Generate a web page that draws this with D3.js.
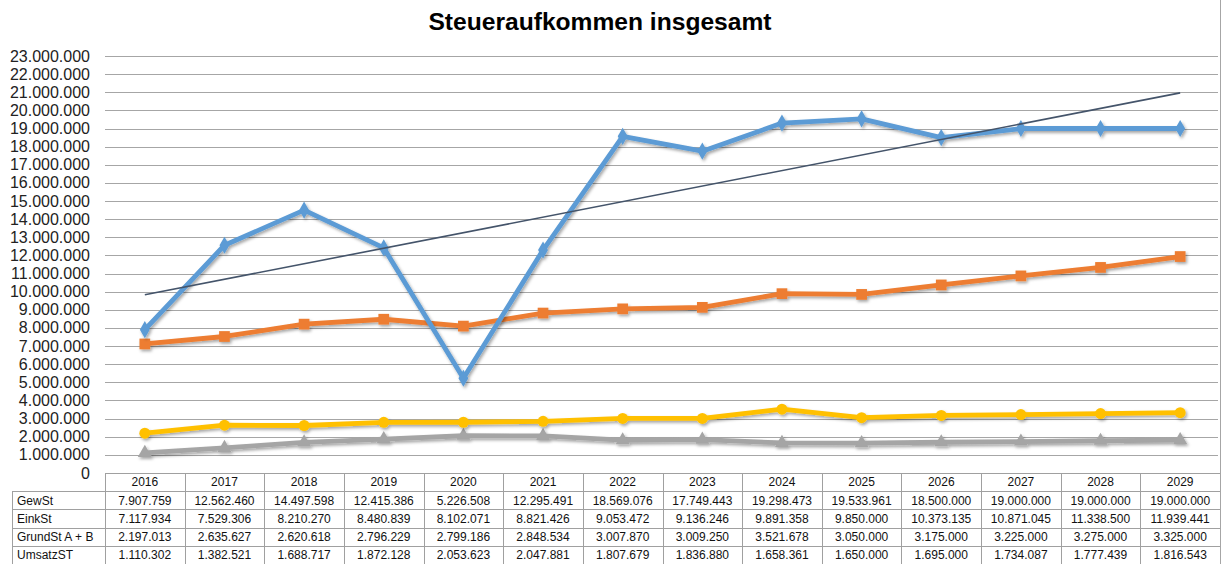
<!DOCTYPE html>
<html>
<head>
<meta charset="utf-8">
<script src="https://cdn.jsdelivr.net/npm/d3@7"></script>
<style>
  body { margin: 0; background: #fff; }
  svg { display: block; font-family: "Liberation Sans", Arial, sans-serif; }
</style>
</head>
<body>
<script>
const years = ["2016","2017","2018","2019","2020","2021","2022","2023","2024","2025","2026","2027","2028","2029"];
const gewSt = [7907759,12562460,14497598,12415386,5226508,12295491,18569076,17749443,19298473,19533961,18500000,19000000,19000000,19000000];
const einkSt = [7117934,7529306,8210270,8480839,8102071,8821426,9053472,9136246,9891358,9850000,10373135,10871045,11338500,11939441];
const grundSt = [2197013,2635627,2620618,2796229,2799186,2848534,3007870,3009250,3521678,3050000,3175000,3225000,3275000,3325000];
const umsatzSt = [1110302,1382521,1688717,1872128,2053623,2047881,1807679,1836880,1658361,1650000,1695000,1734087,1777439,1816543];
const seriesNames = ["GewSt","EinkSt","GrundSt A + B","UmsatzST"];
const yTicks = d3.range(0, 23000001, 1000000);

const W = 1222, H = 564;
const plotL = 105, plotR = 1220, plotT = 56, base = 473;
const rowH = 18.2;

const svg = d3.select("body").append("svg").attr("width", W).attr("height", H);

const defs = svg.append("defs");
const f = defs.append("filter").attr("id", "shadow").attr("x", "-10%").attr("y", "-10%").attr("width", "130%").attr("height", "130%");
f.append("feDropShadow").attr("dx", 1.5).attr("dy", 2).attr("stdDeviation", 1.6).attr("flood-color", "#000").attr("flood-opacity", 0.35);

const x = d3.scaleBand().domain(years).range([plotL, plotR]);
const y = d3.scaleLinear().domain([0, 23000000]).range([base, plotT]);
const fmt = v => d3.format(",")(v).replace(/,/g, ".");

svg.append("text").attr("x", 600).attr("y", 30).attr("text-anchor", "middle")
  .attr("font-size", 24.6).attr("font-weight", "bold").text("Steueraufkommen insgesamt");

// gridlines
svg.append("g").selectAll("line").data(yTicks.slice(1)).join("line")
  .attr("x1", plotL).attr("x2", plotR - 2)
  .attr("y1", d => Math.round(y(d)) + 0.5).attr("y2", d => Math.round(y(d)) + 0.5)
  .attr("stroke", "#a6a6a6").attr("stroke-width", 1);

// y axis labels
svg.append("g").selectAll("text").data(yTicks).join("text")
  .attr("x", 90).attr("y", d => y(d) + 5.5).attr("text-anchor", "end")
  .attr("font-size", 16).attr("fill", "#222").text(fmt);

// chart border right
svg.append("line").attr("x1", plotR + 0.5).attr("x2", plotR + 0.5).attr("y1", 0).attr("y2", H)
  .attr("stroke", "#a6a6a6");

const cx = d => x(d) + x.bandwidth() / 2;

// trendline for GewSt (linear regression)
const idx = gewSt.map((_, i) => i);
const mx = d3.mean(idx), my = d3.mean(gewSt);
const slope = d3.sum(idx, i => (i - mx) * (gewSt[i] - my)) / d3.sum(idx, i => (i - mx) ** 2);
const icpt = my - slope * mx;

const line = d3.line().x((d, i) => cx(years[i])).y(d => y(d));

const series = [
  { vals: umsatzSt, color: "#a5a5a5", sym: d3.symbolTriangle, size: 85 },
  { vals: grundSt, color: "#ffc000", sym: d3.symbolCircle, size: 95 },
  { vals: einkSt, color: "#ed7d31", sym: d3.symbolSquare, size: 115 },
  { vals: gewSt, color: "#5b9bd5", sym: d3.symbolDiamond, size: 85 }
];

series.forEach(s => {
  const g = svg.append("g").attr("filter", "url(#shadow)");
  g.append("path").datum(s.vals).attr("d", line).attr("fill", "none")
    .attr("stroke", s.color).attr("stroke-width", 4.8).attr("stroke-linejoin", "round");
  g.selectAll("path.m").data(s.vals).join("path").attr("class", "m")
    .attr("transform", (d, i) => `translate(${cx(years[i])},${y(d)})`)
    .attr("d", d3.symbol().type(s.sym).size(s.size)).attr("fill", s.color);
});

svg.append("line")
  .attr("x1", cx(years[0])).attr("y1", y(icpt))
  .attr("x2", cx(years[13])).attr("y2", y(icpt + slope * 13))
  .attr("stroke", "#44546a").attr("stroke-width", 1.6);

// data table
const tbl = svg.append("g").attr("font-size", 12).attr("fill", "#111");
const rows = [gewSt, einkSt, grundSt, umsatzSt];
const tTop = base, labL = 12;
const tBot = tTop + rowH * 5;
const stroke = "#a0a0a0";
tbl.append("line").attr("x1", plotL).attr("x2", plotR).attr("y1", tTop + 0.5).attr("y2", tTop + 0.5).attr("stroke", stroke);
d3.range(1, 6).forEach(r => {
  const yy = Math.round(tTop + rowH * r) + 0.5;
  tbl.append("line").attr("x1", labL).attr("x2", plotR).attr("y1", yy).attr("y2", yy).attr("stroke", stroke);
});
tbl.append("line").attr("x1", labL + 0.5).attr("x2", labL + 0.5).attr("y1", tTop + rowH).attr("y2", tBot).attr("stroke", stroke);
years.forEach(yr => {
  const xx = Math.round(x(yr)) + 0.5;
  tbl.append("line").attr("x1", xx).attr("x2", xx).attr("y1", tTop).attr("y2", tBot).attr("stroke", stroke);
});
tbl.selectAll("text.h").data(years).join("text").attr("class", "h")
  .attr("x", cx).attr("y", tTop + rowH / 2 + 4.3).attr("text-anchor", "middle").text(d => d);
rows.forEach((vals, r) => {
  const yy = tTop + rowH * (r + 1) + rowH / 2 + 4.3;
  tbl.append("text").attr("x", labL + 5).attr("y", yy).text(seriesNames[r]);
  tbl.selectAll(null).data(vals).join("text")
    .attr("x", (d, i) => cx(years[i])).attr("y", yy).attr("text-anchor", "middle").text(fmt);
});
</script>
</body>
</html>
